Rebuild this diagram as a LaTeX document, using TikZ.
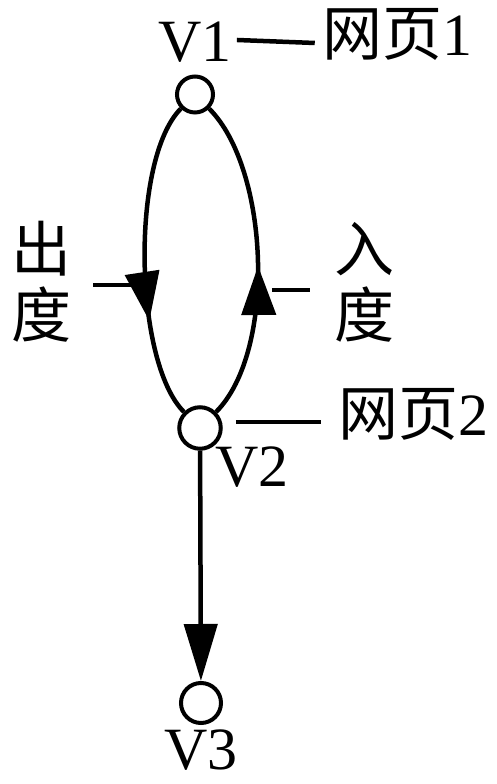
\documentclass[tikz,border=0pt]{standalone}
\usepackage{fontspec}
\setmainfont{Liberation Serif}
\newfontfamily\cjk{Noto Sans CJK SC}
\usetikzlibrary{positioning,arrows.meta,decorations.markings}

\begin{document}
\begin{tikzpicture}[x=1pt,y=1pt,line width=4.5pt,
  font=\fontsize{60}{66}\selectfont,
  vertex/.style={circle,draw,minimum size=41.5pt,inner sep=0pt,line width=4pt},
  lbl/.style={inner sep=0pt,align=center},
  cjklbl/.style={lbl,font={\cjk\fontsize{60}{66}\selectfont}},
  midarrow/.style={postaction={decorate},decoration={markings,
    mark=at position #1 with {\arrow{Triangle[length=49pt,width=34pt]}}}},
  tip/.style={-{Triangle[length=57pt,width=33pt]}}]
    \useasboundingbox (0,0) rectangle (496,784);
    % vertices
    \node[vertex,minimum size=36pt] (v1) at (195,689.5) {};
    \node[vertex] (v2) at (200,356) {};
    \node[vertex,minimum size=40pt] (v3) at (201,81) {};
    \node[lbl,above=10pt of v1] (v1_name) {V1};
    \node[lbl] (v2_name) at (252,317) {V2};
    \node[lbl,below=3pt of v3] (v3_name) {V3};
    % labels
    \node[lbl] (web1) at (397,750) {{\cjk 网页}1};
    \node[lbl] (web2) at (413,370) {{\cjk 网页}2};
    \node[cjklbl] (outdeg) at (42,502) {出\\度};
    \node[cjklbl] (indeg) at (364,502) {入\\度};
    %
    \draw[midarrow=0.69] (v1) to[out=225,in=135,looseness=0.6] (v2);
    \draw[midarrow=0.48] (v2) to[out=45,in=315,looseness=0.72] (v1);
    \draw[tip] (v2) -- (v3);
    %
    \draw ([xshift=3pt,yshift=2pt]v1_name.east) -- ([xshift=-5pt,yshift=-9pt]web1.west);
    \draw ([xshift=13pt,yshift=6pt]v2.east) -- ([xshift=-15pt,yshift=-8pt]web2.west);
    \draw ([xshift=19pt,yshift=-3pt]outdeg.east) -- ([xshift=57pt,yshift=-3pt]outdeg.east);
    \draw ([xshift=-60pt,yshift=-8pt]indeg.west) -- ([xshift=-22pt,yshift=-8pt]indeg.west);
\end{tikzpicture}
\end{document}
